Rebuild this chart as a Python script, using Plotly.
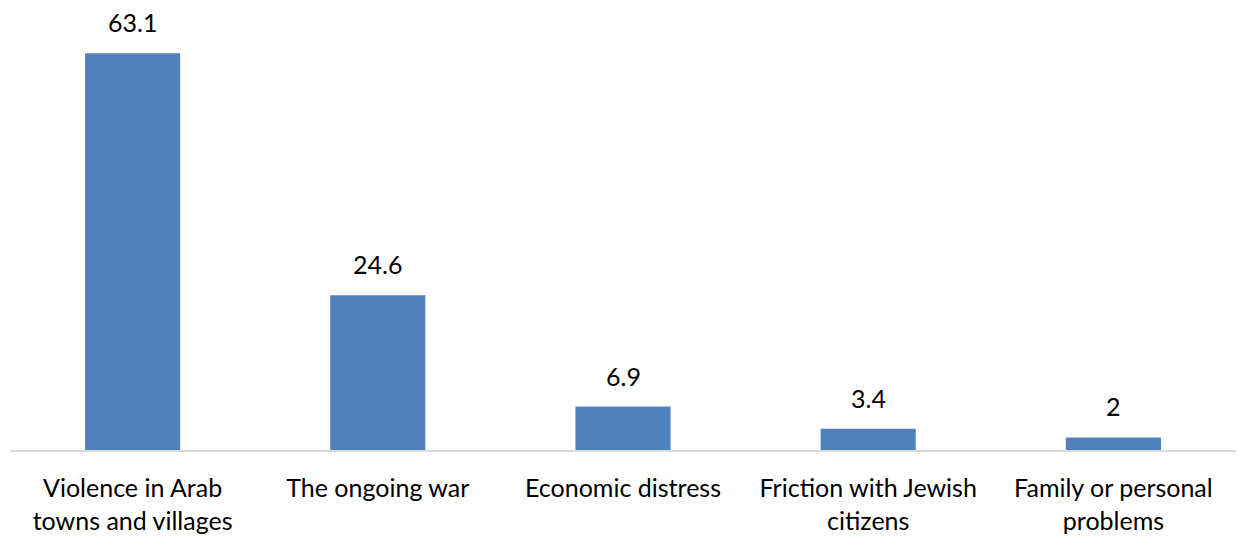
import plotly.graph_objects as go

categories = ["Violence in Arab<br>towns and villages", "The ongoing war", "Economic distress",
              "Friction with Jewish<br>citizens", "Family or personal<br>problems"]
values = [63.1, 24.6, 6.9, 3.4, 2]
labels = ["63.1", "24.6", "6.9", "3.4", "2"]

FONT = "Lato"
SIZE = 25
fig = go.Figure()
fig.add_trace(go.Bar(x=categories, y=values, marker=dict(color="#4f81bd", line=dict(width=0)),
                     hoverinfo="skip"))
for c, v, t in zip(categories, values, labels):
    fig.add_annotation(x=c, y=v, text=t, showarrow=False, yanchor="bottom", yshift=14,
                       font=dict(family=FONT, size=SIZE, color="#000000"))

fig.update_layout(
    width=1239, height=538, plot_bgcolor="white", paper_bgcolor="white",
    margin=dict(l=10, r=3, t=20, b=85), showlegend=False, bargap=0.612,
    font=dict(family=FONT, size=SIZE, color="#000000"),
)
fig.update_xaxes(showline=True, linecolor="#d9d9d9", linewidth=2, ticks="", ticklabelstandoff=15,
                 tickfont=dict(family=FONT, size=SIZE, color="#000000"), showgrid=False)
fig.update_yaxes(range=[0, 68.4], visible=False, showgrid=False)
fig.write_html("out.html", config={"displayModeBar": False},
               post_script="document.body.style.margin='0';document.body.style.overflow='hidden';")
